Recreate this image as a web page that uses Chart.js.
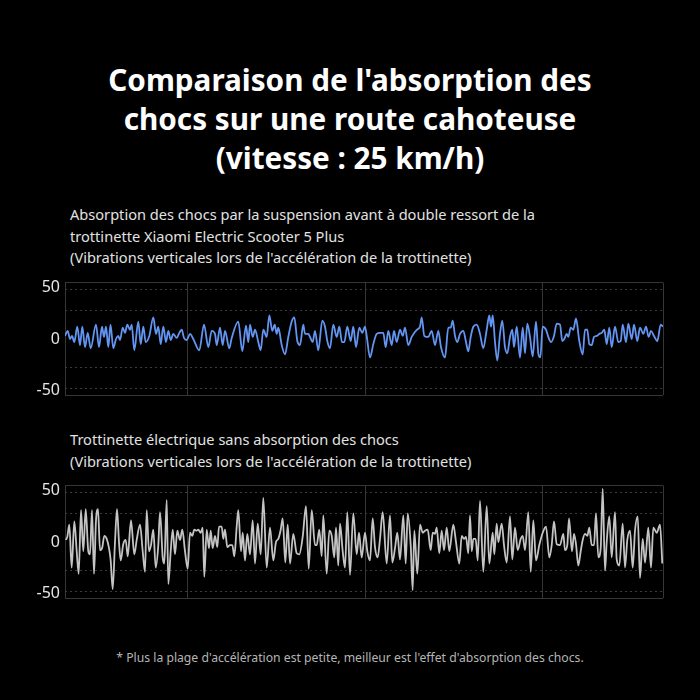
<!DOCTYPE html>
<html>
<head>
<meta charset="utf-8">
<script src="https://cdn.jsdelivr.net/npm/chart.js@4.4.1/dist/chart.umd.min.js"></script>
<style>
  html, body { margin:0; padding:0; background:#000; }
  body { width:700px; height:700px; position:relative; overflow:hidden; font-family:"Noto Sans", sans-serif; }
  #title { position:absolute; left:0; width:700px; top:60px; text-align:center; color:#fff; font-weight:700; font-size:29.7px; line-height:39px; }
  .sub { position:absolute; left:70px; color:#e2e2e2; font-size:14.6px; line-height:21.5px; }
  #note { position:absolute; left:0; width:700px; top:649px; text-align:center; color:#b5b5b5; font-size:12.2px; }
  .wrap { position:absolute; left:0; width:700px; height:142px; }
</style>
</head>
<body>
<div id="title">Comparaison de l'absorption des<br>chocs sur une route cahoteuse<br>(vitesse : 25 km/h)</div>
<div class="sub" style="top:204px">Absorption des chocs par la suspension avant à double ressort de la<br>trottinette Xiaomi Electric Scooter 5 Plus<br>(Vibrations verticales lors de l'accélération de la trottinette)</div>
<div class="wrap" style="top:268px"><canvas id="c1" width="700" height="142"></canvas></div>
<div class="sub" style="top:429px">Trottinette électrique sans absorption des chocs<br>(Vibrations verticales lors de l'accélération de la trottinette)</div>
<div class="wrap" style="top:471px"><canvas id="c2" width="700" height="142"></canvas></div>
<div id="note">* Plus la plage d'accélération est petite, meilleur est l'effet d'absorption des chocs.</div>
<script>
// ---- data ----
const yTickLabels = [-50, 0, 50];
const yRange = [-55, 55];
const timeRange = [0, 598];
const timeGrid = [0, 122, 300, 477, 598];
const dottedLevels = [-48, -28, 28, 48];

const topTime = [0,2.7,5,7,9.3,12.3,15,17.3,20,22.7,25.7,31,34,37,39,41,43.3,45.5,48.3,51,53.3,55,57.7,60,62.3,65,66.7,69.3,73.3,75.7,78.3,80.7,84.3,88.3,91,93.3,95.7,98.3,101,103.3,105.7,108.3,111.7,114.3,116.7,119,121.7,125,128.3,134.3,139,143.3,146.7,150,151.7,155,157.7,160,164.3,166.7,173.3,177.3,181,183.3,185,187.7,190,193.3,195.7,198.3,201.7,204.3,207.3,209.7,211.7,213.3,216.7,220,223.3,226.7,229.3,232.3,235,238.3,240,243.3,245,247.7,250,253.3,257.3,260,262.3,265,268.3,271.7,274.3,277,279.3,282.3,285.7,288.3,291,294.3,297.3,300,301.7,305,308.3,311.7,315,318.3,320.7,323.3,326.7,329,331.7,335,337.7,340,343.3,346.7,351.7,355,356.7,359.3,363.3,366.7,370,373.3,376,380,383.3,385.7,387.7,390,392.3,395,398.3,401,403.3,405.7,408.3,411.7,415,418.3,421.7,424.3,426,427.7,430,432.3,435,437.3,440,442.3,445,447.3,449,451.7,455,457.7,460,462.3,465,467.7,471,473.3,475.3,477.7,481,483.3,486,489,491.7,495,497.3,499.3,501.7,503.3,505.7,508.3,511,514.3,517.7,520,522.3,524.3,526.7,529,531.7,534.3,536.7,539.3,541.7,544.3,546.7,550,553.3,555.7,557.7,561,563.3,566.7,569,572.3,575,578.3,581,583.7,586,589,592.3,595.7,598];
const topValue = [3,8,0,3,-3,12,-6,12,-8,6,-9,14,-8,12,2,12,-8,14,-9,0,3,-1,11,6,14,9,14,-11,17,-5,12,-3,3,21,5,12,-5,12,-3,8,-1,5,1,6,9,1,-1,5,0,-11,14,-8,8,5,-6,11,-6,8,-9,1,17,-12,13,-3,14,2,9,-3,-11,9,2,23,8,14,5,11,-6,-15,2,17,21,-2,-6,14,5,5,2,-3,8,-11,18,12,-2,-9,14,2,12,-3,-3,12,-2,12,-8,11,6,12,3,-18,-5,5,6,6,-8,8,-6,8,-3,9,3,11,-6,2,9,12,21,3,2,8,-6,8,-8,-18,11,11,18,3,-3,5,8,-3,-12,2,12,14,5,-9,9,23,12,23,-3,-21,5,18,-8,-14,2,9,-8,12,-18,11,-14,15,2,-17,17,-14,-18,12,9,2,-3,3,15,14,-2,0,5,2,11,9,20,-2,-15,9,9,-5,-6,2,3,5,6,9,-5,11,-8,12,-3,-2,14,-3,15,0,14,-2,11,5,12,2,8,3,-2,14,12];

const bottomTime = [0.7,2.3,4.3,6.7,9.3,11.7,13.7,16,18.3,20.7,23.3,25,27,29,31,33,35,37.3,39.3,41.7,44,45.7,47.7,50,52,54,55.7,58.3,60.7,62.7,66,69.3,71.7,75,77.7,80,81.7,84,86,88.3,90.7,93.3,95,97.7,99.3,101.7,103.3,105.7,107.7,110,112.3,115,117.3,120,122.7,125,127.3,129.3,131.7,133.3,135.7,137.7,139.3,141.7,144,145.7,147.7,150,152.3,154,156.7,158.3,160,162.3,165,167.3,169.3,171.7,173.3,176,177.7,180,182.3,185,187.7,190,192.7,195.7,198.3,201.7,205,208.3,211,213.3,215.7,217.7,220.3,222.7,225,228.3,231.7,234.3,237.7,241,243.7,246.7,250,251.7,254.3,256.7,258.3,261.7,264.3,266.7,269.3,271,273.3,275,277.7,280,282.3,285,288.3,291.7,294,296.7,300,302.3,305,307.7,310,312.7,315,317.7,321.7,325,327.3,330,332.3,335,338.3,340.7,342.7,345.7,347.7,349.3,352.3,355,357.7,360,362.7,365.7,367.7,370,371.7,374.3,376.7,379,381.7,384.3,388.3,391,394.3,396.7,399,401,403.3,405,406.7,408.3,410.7,412.7,415,418.3,421.7,424.3,427.7,429.3,431.7,433.3,436.7,439,441.7,445,447.3,450,452.7,455.7,457.7,460,463.3,465.7,468.3,471,474.3,477.7,481,484.3,486.7,489,491.7,495,498.3,500,502.3,504,507,509,511,513.3,515.7,517.7,520,522.3,524.3,526.7,529,531,533.3,535.7,537.7,540,541.7,544.3,546.7,550,551.7,554.3,557.7,560,562.3,565,567.7,570,572.7,575,577.7,580,583.3,586,588.3,591.7,595,597.3];
const bottomValue = [2,5,17,-25,20,-9,-31,31,-9,32,-9,-12,31,-31,21,32,-8,-5,6,3,-6,-18,-46,0,32,0,-18,-2,2,-14,21,-12,2,17,-9,-29,31,-9,-3,12,-25,-3,29,-15,-21,41,-41,-9,12,-12,11,2,12,-9,-26,9,6,12,11,12,9,14,-34,12,-6,11,-6,6,-5,15,15,3,12,-5,-3,-3,-14,15,31,-9,9,-18,8,-12,21,-21,18,-12,43,-25,14,-18,0,3,12,23,-20,17,-21,8,-11,-12,5,35,-26,31,-3,-3,12,-14,26,-31,11,6,-15,14,-23,18,-9,-25,29,-32,28,-12,9,-15,9,-9,-18,23,-5,-15,3,29,-21,26,-20,-6,9,-17,26,-21,28,-3,-47,11,-31,17,9,11,12,-8,9,8,14,-11,11,-8,14,-9,17,0,-21,6,3,5,-11,26,-9,3,3,-18,40,-29,35,-21,9,-12,18,0,18,-3,-20,25,-17,14,-8,3,6,-8,29,-29,21,-18,-3,9,15,-15,-3,20,-2,-3,8,-8,-3,23,-9,8,-2,-23,-9,2,8,6,14,-3,-3,28,-15,-6,52,-28,0,25,-15,29,-17,-23,18,-25,2,11,-25,11,25,-35,3,-20,14,-25,14,9,17,-21];

// ---- charts ----
function makeChart(id, times, values, color) {
  const pts = times.map((t, i) => ({ x: t, y: values[i] }));
  return new Chart(document.getElementById(id), {
    type: 'line',
    data: { datasets: [{ data: pts, borderColor: color, borderWidth: 1.8, pointRadius: 0,
      cubicInterpolationMode: 'monotone', fill: false }] },
    options: {
      responsive: false, animation: false,
      layout: { padding: { top: 10, bottom: 12, left: 0, right: 37 } },
      plugins: { legend: { display: false }, tooltip: { enabled: false } },
      scales: {
        x: {
          type: 'linear', min: timeRange[0], max: timeRange[1],
          afterBuildTicks: s => { s.ticks = timeGrid.map(v => ({ value: v })); },
          afterFit: s => { s.height = 0; },
          ticks: { display: false },
          grid: { color: '#363636', lineWidth: 1, drawTicks: false },
          border: { display: false }
        },
        y: {
          min: yRange[0], max: yRange[1],
          afterBuildTicks: s => {
            const vals = [yRange[0], ...yTickLabels, ...dottedLevels, yRange[1]].sort((a, b) => a - b);
            s.ticks = vals.map(v => ({ value: v }));
          },
          afterFit: s => { s.width = 65; },
          ticks: {
            autoSkip: false, padding: 5, color: '#e6e6e6',
            font: { family: 'Noto Sans', size: 16 },
            callback: v => yTickLabels.includes(v) ? String(v) : ''
          },
          grid: {
            drawTicks: false, lineWidth: 1,
            color: c => {
              const v = c.tick && c.tick.value;
              if (v === yRange[0] || v === yRange[1]) return '#363636';
              if (dottedLevels.includes(v)) return '#3a3a3a';
              return 'rgba(0,0,0,0)';
            }
          },
          border: {
            display: false,
            dash: c => (c.tick && dottedLevels.includes(c.tick.value)) ? [2, 3] : []
          }
        }
      }
    }
  });
}
makeChart('c1', topTime, topValue, '#6395f2');
makeChart('c2', bottomTime, bottomValue, '#c4c4c4');
</script>
</body>
</html>
